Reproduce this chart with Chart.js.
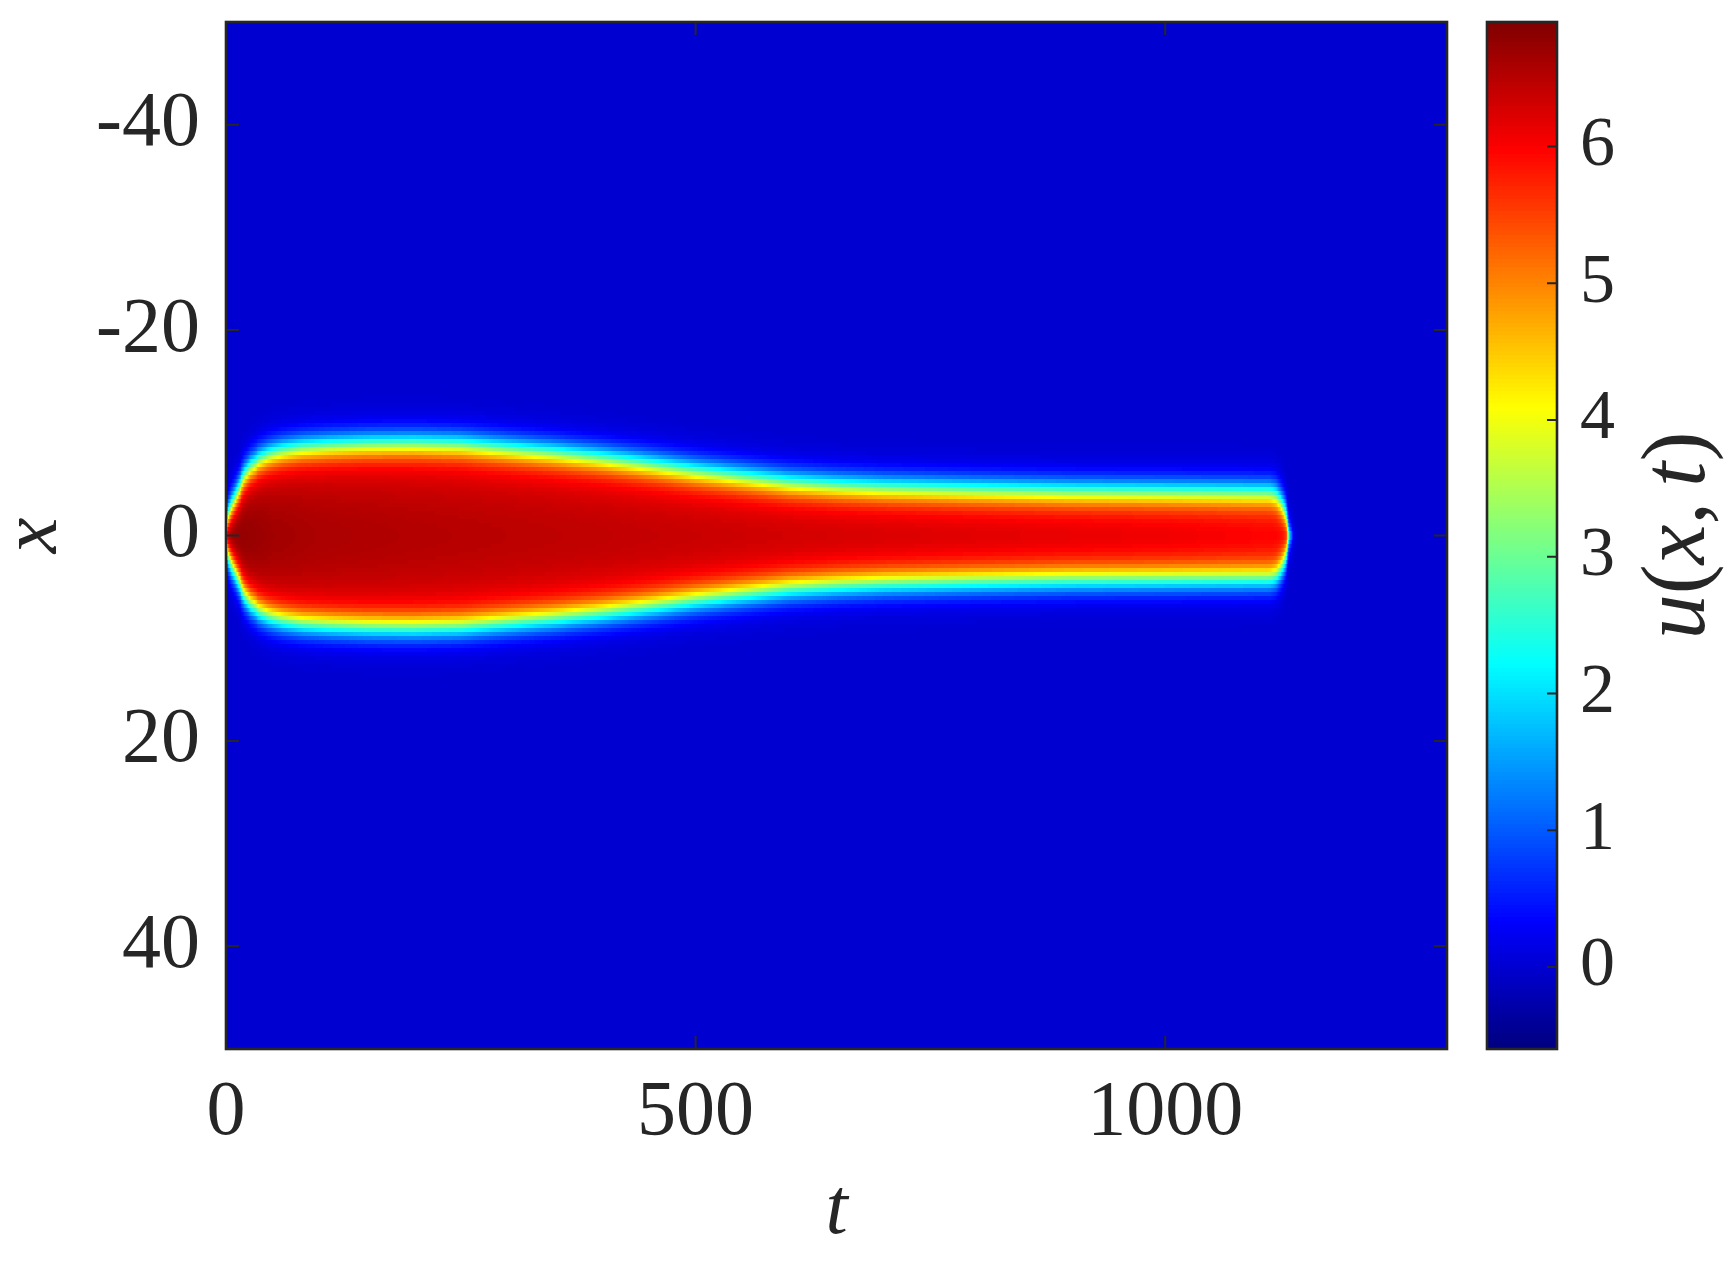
<!DOCTYPE html>
<html>
<head>
<meta charset="utf-8">
<script src="https://cdn.jsdelivr.net/npm/chart.js@4.4.1/dist/chart.umd.min.js"></script>
<style>
  html, body { margin: 0; padding: 0; background: #fff; }
  #wrap { position: relative; width: 1728px; height: 1264px; }
  canvas { position: absolute; left: 0; top: 0; }
</style>
</head>
<body>
<div id="wrap">
  <canvas id="field" width="1728" height="1264"></canvas>
  <canvas id="cbar" width="1728" height="1264"></canvas>
</div>
<script>
// axis ranges and ticks
const tMax = 1300
const xRange = [-50, 50]
const tTicks = [0, 500, 1000]
const xTicks = [-40, -20, 0, 20, 40]
const cRange = [-0.6, 6.91]
const cTicks = [0, 1, 2, 3, 4, 5, 6]

// half-width of the pulse (where u is half the peak), read at these times
const frontT = [0, 3, 6, 10, 15, 20, 26, 35, 45, 60, 80, 110, 150, 200, 250, 300, 350, 400, 450, 500,
  550, 600, 650, 700, 800, 900, 1000, 1100, 1108, 1112, 1116, 1120, 1123, 1126, 1128, 1129.5, 1130.6,
  1132, 1134, 1136, 1140, 1150, 1170, 1300]
const frontHalfWidth = [0.7, 2.2, 3.0, 3.8, 4.9, 5.9, 6.7, 7.4, 7.9, 8.3, 8.6, 8.8, 8.95, 9.0, 8.9, 8.5, 8.1, 7.6, 7.0, 6.35,
  5.8, 5.25, 4.95, 4.75, 4.55, 4.4, 4.35, 4.3, 4.3, 4.27, 4.12, 3.85, 3.45, 2.85, 2.3, 1.6, 0.4,
  -0.4, -1.0, -1.6, -3.5, -8, -16, -70]

// value of u at x = 0
const peakT = [0, 20, 50, 100, 200, 300, 400, 500, 600, 700, 800, 900, 1000, 1100, 1300]
const peakValue = [6.8, 6.75, 6.65, 6.58, 6.52, 6.47, 6.42, 6.36, 6.3, 6.25, 6.2, 6.15, 6.1, 6.0, 5.95]

const background = 0
const edgeWidth = 1.6
const nRows = 256
const tStep = 1

const ink = '#262626'
const serif = "'Liberation Serif', 'DejaVu Serif', serif"

function interp(xs, ys, v) {
	if (v <= xs[0]) return ys[0]
	for (let i = 1; i < xs.length; i++) {
		if (v <= xs[i]) {
			const f = (v - xs[i - 1]) / (xs[i] - xs[i - 1])
			return ys[i - 1] + f * (ys[i] - ys[i - 1])
		}
	}
	return ys[ys.length - 1]
}

// matlab jet, 256 levels
function jet(u) {
	let v = (u - cRange[0]) / (cRange[1] - cRange[0])
	v = Math.min(Math.max(v, 0), 1)
	v = (Math.min(Math.floor(v * 256), 255) + 0.5) / 256
	const c = k => Math.round(255 * Math.min(Math.max(1.5 - Math.abs(4 * v - k), 0), 1))
	return `rgb(${c(3)},${c(2)},${c(1)})`
}

function fieldAt(t, x) {
	const w = interp(frontT, frontHalfWidth, t)
	const a = interp(peakT, peakValue, t)
	const edge = 0.5 * (1 - Math.tanh((Math.abs(x) - w) / edgeWidth))
	const r = w > 1 ? Math.min(Math.abs(x) / w, 1) : 0
	return background + (a - background) * edge * (1 - 0.1 * r * r)
}

const heatmap = {
	id: 'heatmap',
	beforeDatasetsDraw(chart) {
		const { ctx, chartArea: a, scales } = chart
		const sx = scales.x, sy = scales.y
		const dx = (xRange[1] - xRange[0]) / nRows
		ctx.save()
		ctx.beginPath()
		ctx.rect(a.left, a.top, a.width, a.height)
		ctx.clip()
		ctx.fillStyle = jet(background)
		ctx.fillRect(a.left, a.top, a.width, a.height)
		for (let t = 0; t <= tMax; t += tStep) {
			const x0 = Math.round(sx.getPixelForValue(t - tStep / 2))
			const x1 = Math.round(sx.getPixelForValue(t + tStep / 2))
			for (let j = 0; j < nRows; j++) {
				const xv = xRange[0] + (j + 0.5) * dx
				const u = fieldAt(t, xv)
				if (Math.abs(u - background) < 0.02) continue
				const y0 = Math.round(sy.getPixelForValue(xv - dx / 2))
				const y1 = Math.round(sy.getPixelForValue(xv + dx / 2))
				ctx.fillStyle = jet(u)
				ctx.fillRect(x0, Math.min(y0, y1), x1 - x0, Math.abs(y1 - y0))
			}
		}
		ctx.restore()
	},
}

const frame = {
	id: 'frame',
	afterDraw(chart) {
		const { ctx, chartArea: a, scales } = chart
		ctx.save()
		ctx.strokeStyle = ink
		ctx.lineWidth = 2
		ctx.beginPath()
		tTicks.forEach(v => {
			const p = scales.x.getPixelForValue(v)
			ctx.moveTo(p, a.bottom); ctx.lineTo(p, a.bottom - 13)
			ctx.moveTo(p, a.top); ctx.lineTo(p, a.top + 13)
		})
		xTicks.forEach(v => {
			const p = scales.y.getPixelForValue(v)
			ctx.moveTo(a.left, p); ctx.lineTo(a.left + 13, p)
			ctx.moveTo(a.right, p); ctx.lineTo(a.right - 13, p)
		})
		ctx.stroke()
		ctx.lineWidth = 2.6
		ctx.strokeRect(a.left, a.top, a.width, a.height)
		ctx.restore()
	},
}

const colorbar = {
	id: 'colorbar',
	beforeDatasetsDraw(chart) {
		const { ctx, chartArea: a, scales } = chart
		const s = scales.y
		const step = (cRange[1] - cRange[0]) / 256
		ctx.save()
		for (let k = 0; k < 256; k++) {
			const v = cRange[0] + k * step
			const y0 = Math.round(s.getPixelForValue(v))
			const y1 = Math.round(s.getPixelForValue(v + step))
			ctx.fillStyle = jet(v + step / 2)
			ctx.fillRect(a.left, y1, a.width, y0 - y1)
		}
		ctx.restore()
	},
	afterDraw(chart) {
		const { ctx, chartArea: a, scales } = chart
		ctx.save()
		ctx.strokeStyle = ink
		ctx.lineWidth = 2
		ctx.beginPath()
		cTicks.forEach(v => {
			const p = scales.y.getPixelForValue(v)
			ctx.moveTo(a.right, p); ctx.lineTo(a.right - 10, p)
		})
		ctx.stroke()
		ctx.lineWidth = 2.6
		ctx.strokeRect(a.left, a.top, a.width, a.height)

		// u(x,t) label, reading bottom to top
		const size = 90
		const parts = [['u', 'italic'], ['(', 'normal'], ['x', 'italic'], [',', 'normal'], [' ', 'thin'], ['t', 'italic'], [')', 'normal']]
		const widths = parts.map(([txt, st]) => {
			if (st === 'thin') return size * 0.17
			ctx.font = `${st} ${size}px ${serif}`
			return ctx.measureText(txt).width
		})
		const total = widths.reduce((p, c) => p + c, 0)
		ctx.translate(1681, (a.top + a.bottom) / 2)
		ctx.rotate(-Math.PI / 2)
		ctx.fillStyle = ink
		ctx.textBaseline = 'alphabetic'
		let cx = -total / 2
		parts.forEach(([txt, st], i) => {
			if (st !== 'thin') {
				ctx.font = `${st} ${size}px ${serif}`
				ctx.fillText(txt, cx, size * 0.25)
			}
			cx += widths[i]
		})
		ctx.restore()
	},
}

const zeroPad = s => { s.paddingTop = 0; s.paddingBottom = 0; s.paddingLeft = 0; s.paddingRight = 0 }

function draw() {
	new Chart(document.getElementById('field'), {
		type: 'scatter',
		data: { datasets: [] },
		options: {
			responsive: false,
			animation: false,
			devicePixelRatio: 1,
			layout: { padding: { top: 22, right: 281, left: 0, bottom: 0 } },
			plugins: { legend: { display: false }, tooltip: { enabled: false } },
			scales: {
				x: {
					type: 'linear',
					position: 'bottom',
					min: 0,
					max: tMax,
					afterFit: s => { s.height = 215; zeroPad(s) },
					afterBuildTicks: s => { s.ticks = tTicks.map(v => ({ value: v })) },
					grid: { display: false, drawTicks: false },
					border: { display: false },
					ticks: { color: ink, padding: 18, maxRotation: 0, font: { family: serif, size: 78 }, callback: v => String(v) },
					title: { display: true, text: 't', color: ink, padding: { top: 0, bottom: 12 }, font: { family: serif, size: 80, style: 'italic', lineHeight: 1 } },
				},
				y: {
					type: 'linear',
					position: 'left',
					reverse: true,
					min: xRange[0],
					max: xRange[1],
					afterFit: s => { s.width = 226; zeroPad(s) },
					afterBuildTicks: s => { s.ticks = xTicks.map(v => ({ value: v })) },
					grid: { display: false, drawTicks: false },
					border: { display: false },
					ticks: { color: ink, padding: 26, font: { family: serif, size: 78 }, callback: v => String(v) },
					title: { display: true, text: 'x', color: ink, padding: 3, font: { family: serif, size: 80, style: 'italic', lineHeight: 0.8 } },
				},
			},
		},
		plugins: [heatmap, frame],
	})

	new Chart(document.getElementById('cbar'), {
		type: 'scatter',
		data: { datasets: [] },
		options: {
			responsive: false,
			animation: false,
			devicePixelRatio: 1,
			layout: { padding: { top: 22, right: 0, left: 1487, bottom: 215 } },
			plugins: { legend: { display: false }, tooltip: { enabled: false } },
			scales: {
				x: { display: false },
				y: {
					type: 'linear',
					position: 'right',
					min: cRange[0],
					max: cRange[1],
					afterFit: s => { s.width = 171; zeroPad(s) },
					afterBuildTicks: s => { s.ticks = cTicks.map(v => ({ value: v })) },
					grid: { display: false, drawTicks: false },
					border: { display: false },
					ticks: { color: ink, padding: 23, font: { family: serif, size: 70 }, callback: v => String(v) },
				},
			},
		},
		plugins: [colorbar],
	})
}

// canvas text needs the faces loaded first
Promise.all([
	document.fonts.load("78px 'Liberation Serif'"),
	document.fonts.load("italic 80px 'Liberation Serif'"),
]).then(draw, draw)
</script>
</body>
</html>
